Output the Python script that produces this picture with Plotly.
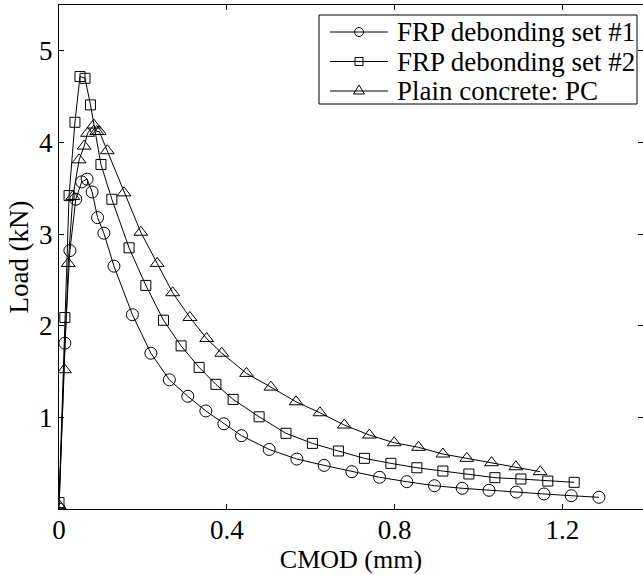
import plotly.graph_objects as go

# CMOD (mm) and Load (kN)
cmod_set1 = [0.0, 0.014, 0.026, 0.040, 0.054, 0.067, 0.079, 0.092, 0.107, 0.131, 0.175, 0.219,
             0.263, 0.307, 0.350, 0.393, 0.435, 0.501, 0.567, 0.632, 0.698, 0.764, 0.829,
             0.895, 0.961, 1.025, 1.090, 1.156, 1.221, 1.287]
load_set1 = [0.0, 1.81, 2.82, 3.38, 3.57, 3.60, 3.46, 3.18, 3.01, 2.65, 2.12, 1.70,
             1.41, 1.23, 1.07, 0.93, 0.80, 0.65, 0.545, 0.476, 0.407, 0.346, 0.298,
             0.254, 0.226, 0.204, 0.185, 0.164, 0.145, 0.128]

cmod_set2 = [0.0, 0.014, 0.024, 0.038, 0.050, 0.062, 0.075, 0.100, 0.126, 0.167, 0.207,
             0.249, 0.291, 0.334, 0.374, 0.415, 0.477, 0.541, 0.604, 0.666, 0.728, 0.791,
             0.853, 0.915, 0.977, 1.039, 1.101, 1.165, 1.228]
load_set2 = [0.07, 2.09, 3.42, 4.22, 4.72, 4.70, 4.41, 3.76, 3.38, 2.85, 2.44,
             2.06, 1.78, 1.545, 1.36, 1.196, 1.006, 0.826, 0.716, 0.633, 0.553, 0.498,
             0.45, 0.414, 0.382, 0.342, 0.327, 0.305, 0.291]

cmod_pc = [0.0, 0.013, 0.022, 0.033, 0.048, 0.060, 0.068, 0.083, 0.090, 0.096, 0.115, 0.155,
           0.195, 0.234, 0.271, 0.312, 0.352, 0.388, 0.447, 0.505, 0.565, 0.622, 0.680,
           0.740, 0.799, 0.857, 0.915, 0.972, 1.031, 1.089, 1.147]
load_pc = [0.04, 1.52, 2.68, 3.41, 3.81, 3.96, 4.10, 4.19, 4.12, 4.12, 3.91, 3.45,
           3.02, 2.68, 2.36, 2.09, 1.86, 1.70, 1.48, 1.33, 1.17, 1.05, 0.916,
           0.807, 0.723, 0.673, 0.60, 0.553, 0.505, 0.461, 0.407]

series_names = ["FRP debonding set #1", "FRP debonding set #2", "Plain concrete: PC"]

x_ticks = [0, 0.4, 0.8, 1.2]
x_tick_labels = ["0", "0.4", "0.8", "1.2"]
y_ticks = [1, 2, 3, 4, 5]
y_tick_labels = ["1", "2", "3", "4", "5"]

FONT = "Liberation Serif, Times New Roman, serif"
FS = 27

# layout geometry (pixels)
W, H = 643, 575
ML, MR, MT, MB = 59, 0, 5, 66
PW, PH = W - ML - MR, H - MT - MB


def px(xp):
    return (xp - ML) / PW


def py(yp):
    return 1 - (yp - MT) / PH


fig = go.Figure()
styles = [("circle-open", 12), ("square-open", 10), ("triangle-up-open", 12)]
data = [(cmod_set1, load_set1), (cmod_set2, load_set2), (cmod_pc, load_pc)]
for (xs, ys), name, (sym, size) in zip(data, series_names, styles):
    fig.add_trace(go.Scatter(
        x=xs, y=ys, name=name, mode="lines+markers",
        line=dict(color="black", width=1),
        marker=dict(symbol=sym, size=size, color="black", line=dict(color="black", width=1)),
        showlegend=False,
    ))

# legend drawn as a box with swatches and real-text labels
shapes = [dict(type="rect", xref="paper", yref="paper",
               x0=px(319), x1=px(637), y0=py(104), y1=py(15),
               line=dict(color="black", width=1), fillcolor="white", layer="above")]
annotations = []
row_y = [32, 61.5, 91]
for i, name in enumerate(series_names):
    yy = py(row_y[i])
    shapes.append(dict(type="line", xref="paper", yref="paper",
                       x0=px(330), x1=px(388), y0=yy, y1=yy,
                       line=dict(color="black", width=1), layer="above"))
    common = dict(xref="paper", yref="paper", xsizemode="pixel", ysizemode="pixel",
                  xanchor=px(359), yanchor=yy, line=dict(color="black", width=1), layer="above")
    if i == 0:
        shapes.append(dict(type="circle", x0=-4.5, x1=4.5, y0=-4.5, y1=4.5, **common))
    elif i == 1:
        shapes.append(dict(type="rect", x0=-4, x1=4, y0=-4, y1=4, **common))
    else:
        shapes.append(dict(type="path", path="M-5.5,-3 L5.5,-3 L0,6 Z", **common))
    annotations.append(dict(xref="paper", yref="paper", x=px(395), y=yy,
                            xanchor="left", yanchor="middle", showarrow=False,
                            text=name, font=dict(family=FONT, size=FS, color="black")))

fig.update_layout(
    width=W, height=H,
    margin=dict(l=ML, r=MR, t=MT, b=MB),
    paper_bgcolor="white", plot_bgcolor="white",
    font=dict(family=FONT, size=FS, color="black"),
    showlegend=False,
    shapes=shapes, annotations=annotations,
    xaxis=dict(
        range=[0, 1.392], tickvals=x_ticks, ticktext=x_tick_labels,
        ticks="inside", ticklen=5, tickcolor="black", tickwidth=1,
        showline=True, linecolor="black", linewidth=1, mirror="ticks",
        showgrid=False, zeroline=False, ticklabelstandoff=-3,
        title=dict(text="CMOD (mm)", standoff=5, font=dict(size=26)),
        tickfont=dict(size=FS),
    ),
    yaxis=dict(
        range=[0, 5.5], tickvals=y_ticks, ticktext=y_tick_labels,
        ticks="inside", ticklen=5, tickcolor="black", tickwidth=1,
        showline=True, linecolor="black", linewidth=1, mirror="ticks",
        showgrid=False, zeroline=False,
        title=dict(text="Load (kN)", standoff=2, font=dict(size=FS)),
        tickfont=dict(size=FS),
    ),
)

fig.write_html("out.html")
